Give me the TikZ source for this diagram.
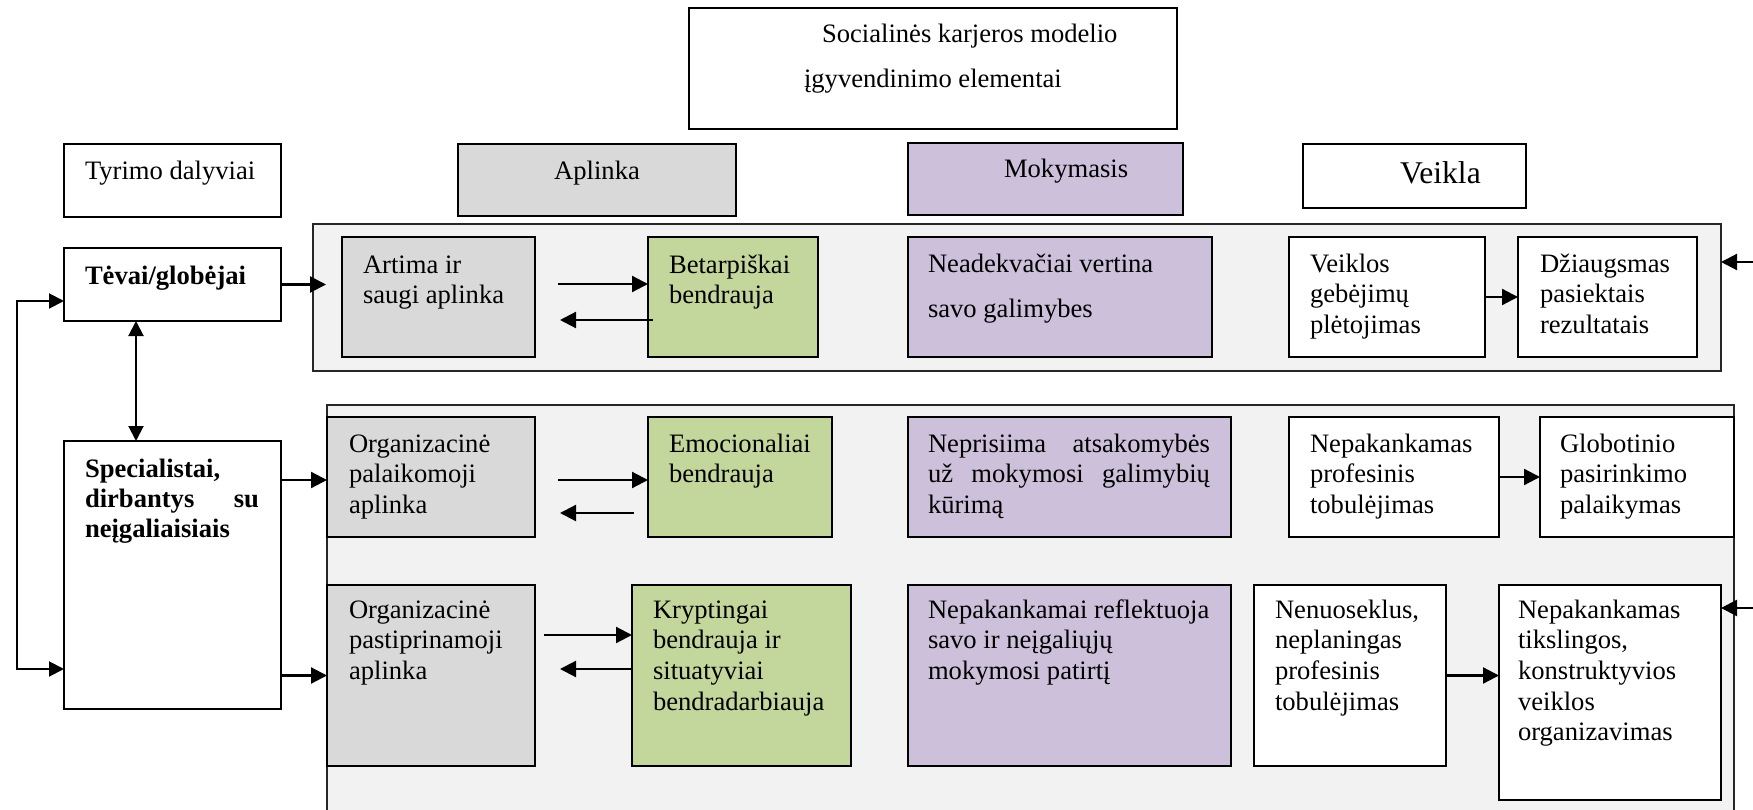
\documentclass[tikz,border=0pt]{standalone}
\usepackage{fontspec}
\setmainfont{Liberation Serif}
\usetikzlibrary{arrows.meta,calc}
\definecolor{grayfill}{HTML}{D9D9D9}
\definecolor{greenfill}{HTML}{C3D69B}
\definecolor{purplefill}{HTML}{CCC0DA}
\definecolor{panelfill}{HTML}{F2F2F2}
\tikzset{
  bx/.style={draw=black, line width=1.6pt, rectangle, inner sep=0pt, outer sep=0pt, anchor=north west},
  panelbox/.style={draw=black!85, line width=1.8pt, fill=panelfill, rectangle, inner sep=0pt, outer sep=0pt, anchor=north west},
  tx/.style={inner sep=0pt, outer sep=0pt, anchor=north west, align=left, font=\fontsize{26.6}{30.7}\selectfont},
  lbl/.style={inner sep=0pt, outer sep=0pt, anchor=base west, font=\fontsize{26.6}{30.7}\selectfont},
  arr/.style={line width=2.2pt, -{Triangle[length=16pt,width=16pt]}},
  darr/.style={line width=2pt, {Triangle[length=15pt,width=15pt]}-{Triangle[length=15pt,width=15pt]}},
}
\newcommand{\mybox}[6]{\node[bx,fill=#6,minimum width={#4-#2},minimum height={#5-#3}] (#1) at (#2,#3) {};}
\newcommand{\mypanel}[5]{\node[panelbox,minimum width={#4-#2},minimum height={#5-#3}] (#1) at (#2,#3) {};}
\newcommand{\mytext}[4]{\node[tx] (#1) at (#2,#3-21.49) {\strut #4};}
\begin{document}
\begin{tikzpicture}[x=1pt,y=-1pt]
\useasboundingbox (0,0) rectangle (1753,810);
\clip (0,0) rectangle (1753,810);

% panels
\mypanel{panelA}{313}{224}{1721}{371}
\mypanel{panelB}{327}{405}{1734}{840}

% header boxes
\mybox{title}{689}{8}{1177}{129}{white}
\mybox{tyrimo}{64}{144}{281}{217}{white}
\mybox{aplinka}{458}{144}{736}{216}{grayfill}
\mybox{mokymasis}{908}{143}{1183}{215}{purplefill}
\mybox{veikla}{1303}{144}{1526}{208}{white}

% participants
\mybox{tevai}{64}{248}{281}{321}{white}
\mybox{spec}{64}{441}{281}{709}{white}

% row 1
\mybox{artima}{342}{237}{535}{357}{grayfill}
\mybox{betarp}{648}{237}{818}{357}{greenfill}
\mybox{neadekv}{908}{237}{1212}{357}{purplefill}
\mybox{veiklos}{1289}{237}{1485}{357}{white}
\mybox{dziaugs}{1518}{237}{1697}{357}{white}

% row 2
\mybox{orgA}{327}{417}{535}{537}{grayfill}
\mybox{emo}{648}{417}{832}{537}{greenfill}
\mybox{nepris}{908}{417}{1231}{537}{purplefill}
\mybox{nepprof}{1289}{417}{1499}{537}{white}
\mybox{glob}{1540}{417}{1734}{537}{white}

% row 3
\mybox{orgB}{327}{585}{535}{766}{grayfill}
\mybox{krypt}{632}{585}{851}{766}{greenfill}
\mybox{nepref}{908}{585}{1231}{766}{purplefill}
\mybox{nenu}{1254}{585}{1446}{766}{white}
\mybox{neptiksl}{1499}{585}{1721}{800}{white}

% header texts
\node[tx] (titleT) at (804,43-21.49) {\strut\hspace*{18pt}Socialinės karjeros modelio\\[14.3pt]įgyvendinimo elementai};
\node[lbl] (tyrimoT) at (85,180) {Tyrimo dalyviai};
\node[lbl, anchor=base] (aplinkaT) at (597,180) {Aplinka};
\node[lbl] (mokymasisT) at (1004,178) {Mokymasis};
\node[lbl, font=\fontsize{31.6}{36}\selectfont] (veiklaT) at (1400,184) {Veikla};
\node[lbl, font=\fontsize{26.6}{30.7}\selectfont\bfseries] (tevaiT) at (85,284) {Tėvai/globėjai};
\node[tx, font=\fontsize{26.6}{30}\selectfont\bfseries] (specT) at (85,477-21) {\strut Specialistai,\\\hbox to 174pt{dirbantys\hfill su}\\neįgaliaisiais};

% box texts
\mytext{artimaT}{363}{273}{Artima ir\\saugi aplinka}
\mytext{betarpT}{669}{273}{Betarpiškai\\bendrauja}
\mytext{neadekvT}{928}{272}{Neadekvačiai vertina\\[14.3pt]savo galimybes}
\mytext{veiklosT}{1310}{272}{Veiklos\\gebėjimų\\plėtojimas}
\mytext{dziaugsT}{1540}{272}{Džiaugsmas\\pasiektais\\rezultatais}
\mytext{orgAT}{349}{452}{Organizacinė\\palaikomoji\\aplinka}
\mytext{emoT}{669}{452}{Emocionaliai\\bendrauja}
\mytext{neprisT}{928}{452}{\hbox to 282pt{Neprisiima\hfill atsakomybės}\\\hbox to 282pt{už\hfill mokymosi\hfill galimybių}\\kūrimą}
\mytext{nepprofT}{1310}{452}{Nepakankamas\\profesinis\\tobulėjimas}
\mytext{globT}{1560}{452}{Globotinio\\pasirinkimo\\palaikymas}
\mytext{orgBT}{349}{618}{Organizacinė\\pastiprinamoji\\aplinka}
\mytext{kryptT}{653}{618}{Kryptingai\\bendrauja ir\\situatyviai\\bendradarbiauja}
\mytext{neprefT}{928}{618}{Nepakankamai reflektuoja\\savo ir neįgaliųjų\\mokymosi patirtį}
\mytext{nenuT}{1275}{618}{Nenuoseklus,\\neplaningas\\profesinis\\tobulėjimas}
\mytext{neptikslT}{1518}{618}{Nepakankamas\\tikslingos,\\konstruktyvios\\veiklos\\organizavimas}

% connectors: participants
\draw[arr] (tevai.east) -- ($(tevai.east -| panelA.west)+(13,0)$);
\draw[arr] ($(spec.east)+(0,-95)$) -- ($(orgA.west)+(0,3)$);
\draw[arr] (spec.east |- orgB.west) -- (orgB.west);
\draw[darr] ($(tevai.south)+(-36.5,0)$) -- ($(spec.north)+(-36.5,0)$);
\coordinate (loopA) at (17,301);
\coordinate (loopB) at (17,669);
\draw[darr] ($(tevai.west)+(0,16.5)$) -- (loopA) -- (loopB) -- ($(spec.west)+(0,94)$);

% row 1
\draw[arr] ($(artima.east)+(23,-13)$) -- ($(betarp.west)+(0,-13)$);
\draw[arr] ($(betarp.west)+(5,23)$) -- ($(artima.east)+(25,23)$);
\draw[arr] (veiklos.east) -- (dziaugs.west);

% row 2
\draw[arr] ($(orgA.east)+(23,3)$) -- ($(emo.west)+(0,3)$);
\draw[arr] ($(emo.west)+(-14,36)$) -- ($(orgA.east)+(25,36)$);
\draw[arr] (nepprof.east) -- (glob.west);

% row 3
\draw[arr] ($(orgB.east)+(9,-40.5)$) -- ($(krypt.west)+(0,-40.5)$);
\draw[arr] ($(krypt.west)+(0,-6.5)$) -- ($(orgB.east)+(25,-6.5)$);
\draw[arr] (nenu.east) -- (nenu.east -| neptiksl.west);

% from the right edge
\coordinate (rightA) at (1765,262);
\coordinate (rightB) at (1765,608);
\draw[arr] (rightA) -- (rightA -| panelA.east);
\draw[arr] (rightB) -- (rightB -| neptiksl.east);
\end{tikzpicture}
\end{document}
